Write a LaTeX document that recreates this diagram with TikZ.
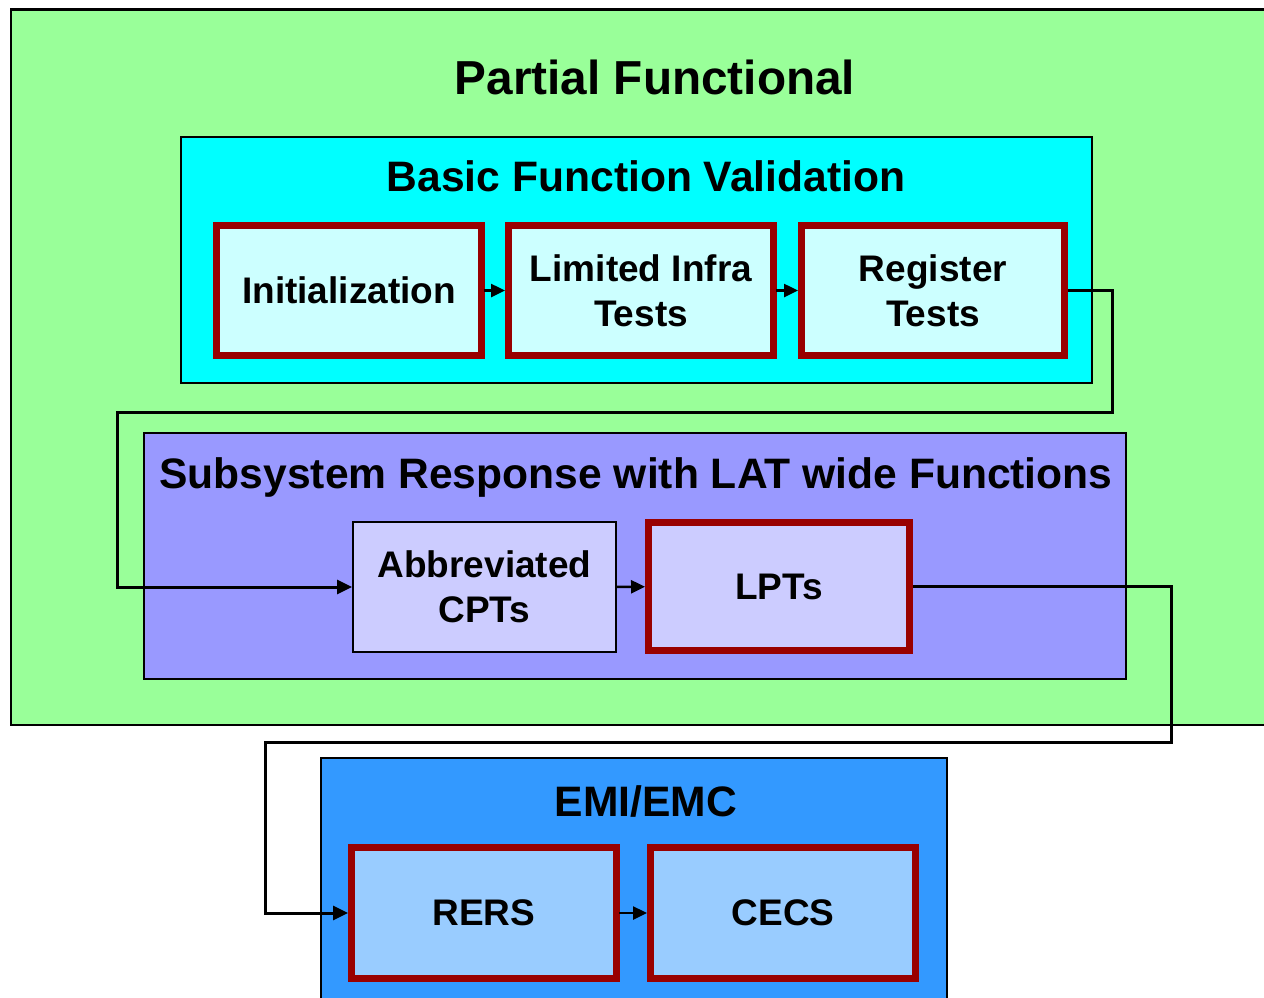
\documentclass[tikz,border=0pt]{standalone}
\usepackage{fontspec}
\setmainfont{Liberation Sans}
\usetikzlibrary{arrows.meta}
\definecolor{pgreen}{HTML}{99FF99}
\definecolor{pcyan}{HTML}{00FFFF}
\definecolor{plcyan}{HTML}{CCFFFF}
\definecolor{pred}{HTML}{990000}
\definecolor{ppurple}{HTML}{9999FF}
\definecolor{plav}{HTML}{CCCCFF}
\definecolor{pblue}{HTML}{3399FF}
\definecolor{plblue}{HTML}{99CCFF}
\tikzset{
  group/.style={draw=black, line width=2pt, inner sep=0pt, rectangle},
  redbox/.style={draw=pred, line width=7pt, inner sep=0pt, rectangle, align=center,
     font=\fontsize{37}{45}\selectfont\bfseries},
  plainbox/.style={draw=black, line width=2pt, inner sep=0pt, rectangle, align=center,
     font=\fontsize{37}{45}\selectfont\bfseries},
  bigtitle/.style={anchor=base, inner sep=0pt, font=\fontsize{47.7}{56}\selectfont\bfseries},
  sectitle/.style={anchor=base, inner sep=0pt, font=\fontsize{42.6}{50}\selectfont\bfseries},
  conn/.style={line width=3pt, -{Triangle[length=15pt,width=14pt]}},
  link/.style={line width=2.5pt, -{Triangle[length=14pt,width=13pt]}, shorten <=-1pt}
}
\begin{document}
\begin{tikzpicture}[x=1pt,y=-1pt]
\useasboundingbox (0,0) rectangle (1264,997);
\clip (0,0) rectangle (1264,997);
% outer green group
\node[group, line width=2.5pt, fill=pgreen, minimum width=1279pt, minimum height=715.5pt] (pf) at (650.5,367.25) {};
\node[bigtitle] (pft) at (655,94.5) {Partial Functional};
% basic function validation
\node[group, fill=pcyan, minimum width=911pt, minimum height=246pt] (bfv) at (636.5,260) {};
\node[sectitle] (bfvt) at (646,191.5) {Basic Function Validation};
\node[redbox, fill=plcyan, minimum width=265pt, minimum height=130pt] (init) at (349,290.5) {Initialization};
\node[redbox, fill=plcyan, minimum width=265pt, minimum height=130pt] (lim) at (641,290.5) {Limited Infra\\Tests};
\node[redbox, fill=plcyan, minimum width=263pt, minimum height=130pt] (reg) at (933,290.5) {Register\\Tests};
% subsystem response
\node[group, fill=ppurple, minimum width=982pt, minimum height=246pt] (ssr) at (635,556) {};
\node[sectitle] (ssrt) at (636,488) {Subsystem Response with LAT wide Functions};
\node[plainbox, fill=plav, minimum width=263pt, minimum height=130pt] (abbr) at (484.5,587) {Abbreviated\\CPTs};
\node[redbox, fill=plav, minimum width=261pt, minimum height=128pt] (lpt) at (779,586.5) {LPTs};
% EMI/EMC
\node[group, fill=pblue, minimum width=626pt, minimum height=252pt] (emi) at (634,884) {};
\node[sectitle] (emit) at (646,816.5) {EMI/EMC};
\node[redbox, fill=plblue, minimum width=265pt, minimum height=131pt] (rers) at (484,913) {RERS};
\node[redbox, fill=plblue, minimum width=265pt, minimum height=131pt] (cecs) at (783,913) {CECS};
% connectors
\coordinate (c1) at (1112,412);
\coordinate (c2) at (117,587);
\coordinate (c3) at (1171,742);
\coordinate (c4) at (265,913);
\draw[link] (init) -- (lim);
\draw[link] (lim) -- (reg);
\draw[link] (abbr) -- (lpt);
\draw[link] (rers) -- (cecs);
\draw[conn] (reg.east) -| (c1) -| (c2) -- (abbr.west);
\draw[conn] (lpt.east) -| (c3) -| (c4) -- (rers.west);
\end{tikzpicture}
\end{document}
